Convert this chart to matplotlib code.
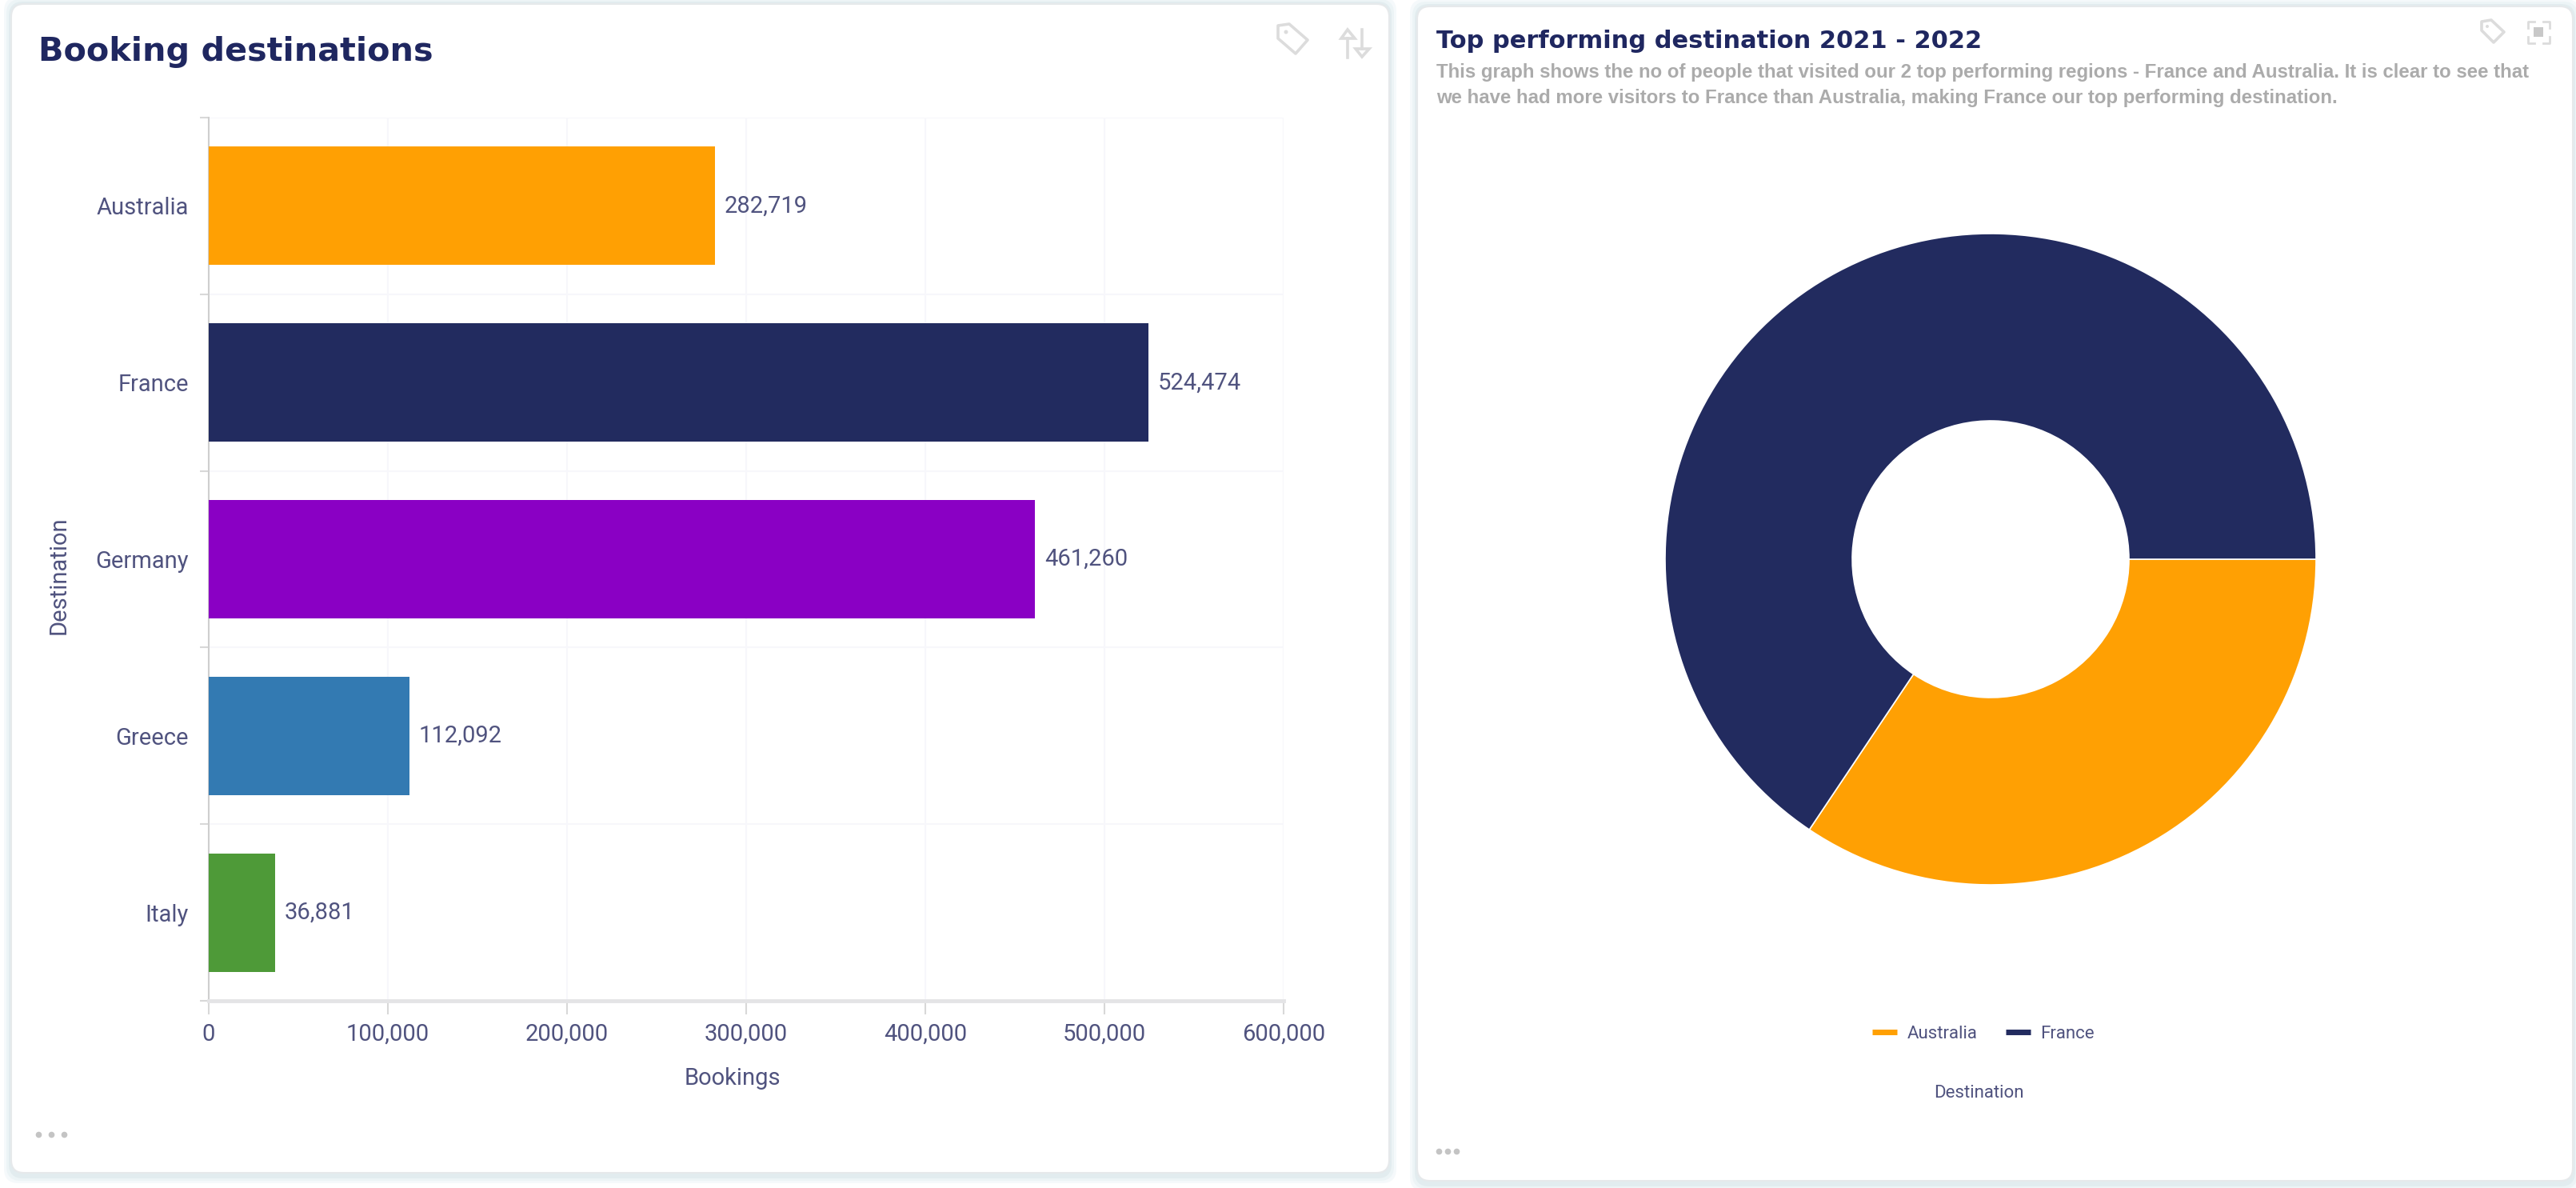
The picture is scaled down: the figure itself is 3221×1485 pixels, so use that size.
import matplotlib
matplotlib.use('Agg')
import matplotlib.pyplot as plt
from matplotlib.lines import Line2D
from matplotlib.patches import FancyBboxPatch, Polygon, Circle, Rectangle

W, H = 3221, 1485

# bar chart data
destinations = ['Australia', 'France', 'Germany', 'Greece', 'Italy']
bookings = [282719, 524474, 461260, 112092, 36881]
bar_colors = ['#FFA003', '#222B5F', '#8A00C4', '#337AB2', '#4E9A38']
x_ticks = [0, 100000, 200000, 300000, 400000, 500000, 600000]

# donut data, shares (no numbers shown on it)
donut_labels = ['Australia', 'France']
donut_values = [34.4, 65.6]
donut_colors = ['#FFA003', '#222B5F']

title_col = '#1F2760'
label_col = '#50537F'
icon_col = '#DCDCDC'
sub_col = '#ABABAB'

plt.rcParams['font.family'] = ['Roboto', 'DejaVu Sans']

fig = plt.figure(figsize=(W / 100, H / 100), dpi=100, facecolor='white')


def px_axes(x0, y0, x1, y1, **kw):
    # axes from pixel coordinates, y measured from the top
    return fig.add_axes([x0 / W, 1 - y1 / H, (x1 - x0) / W, (y1 - y0) / H], **kw)


# background layer in pixels, for cards, titles and icons
bg = px_axes(0, 0, W, H)
bg.set_xlim(0, W)
bg.set_ylim(H, 0)
bg.axis('off')


def card(x0, y0, x1, y1):
    for grow, col in [(9, '#F5F9FB'), (6, '#ECF4F6'), (3, '#E2ECEF')]:
        bg.add_patch(FancyBboxPatch((x0 - grow + 12, y0 - grow + 12), x1 - x0 + 2 * grow - 24, y1 - y0 + 2 * grow - 20,
                                    boxstyle='round,pad=12,rounding_size=18', fc=col, ec='none'))
    bg.add_patch(FancyBboxPatch((x0 + 12, y0 + 12), x1 - x0 - 24, y1 - y0 - 24,
                                boxstyle='round,pad=12,rounding_size=16', fc='white', ec='#E6E9EB', lw=1.5))


card(14, 5, 1737, 1466)
card(1772, 8, 3217, 1476)


def tag_icon(pts, hole, r):
    bg.add_patch(Polygon(pts, closed=True, fc='none', ec=icon_col, lw=2.6, joinstyle='round'))
    bg.add_patch(Circle(hole, r, fc=icon_col, ec='none'))


def dots(xs, y):
    bg.plot(xs, [y] * 3, ls='none', marker='o', ms=4.5, color='#C4C4C4')


tag_icon([(1598, 32), (1612, 30), (1635, 50), (1620, 67), (1598, 48)], (1608, 40), 2.5)
# sort arrows in the left card
bg.plot([1685, 1685], [48, 72], color=icon_col, lw=2.6)
bg.add_patch(Polygon([(1677, 48), (1685, 37), (1694, 48)], closed=True, fc='none', ec=icon_col, lw=2.6))
bg.plot([1703, 1703], [37, 61], color=icon_col, lw=2.6)
bg.add_patch(Polygon([(1695, 61), (1703, 71), (1712, 61)], closed=True, fc='none', ec=icon_col, lw=2.6))

tag_icon([(3103, 27), (3115, 25), (3131, 40), (3118, 53), (3103, 38)], (3110, 33), 2)
# focus icon in the right card
for sx, sy in [(-1, -1), (1, -1), (-1, 1), (1, 1)]:
    cx, cy = 3174 + sx * 13.5, 40 + sy * 13.5
    bg.plot([cx - sx * 8, cx, cx], [cy, cy, cy - sy * 8], color=icon_col, lw=2)
bg.add_patch(Rectangle((3168, 34), 12, 12, fc='#C8C8C8', ec='none'))

dots([48, 64, 80], 1418)
dots([1799, 1810, 1821], 1439)

bg.text(48, 65, 'Booking destinations', family='DejaVu Sans', weight='bold', fontsize=29.8,
        color=title_col, va='center', ha='left')
bg.text(1796, 51, 'Top performing destination 2021 - 2022', family='DejaVu Sans', weight='bold', fontsize=22,
        color=title_col, va='center', ha='left')
bg.text(1796, 90, 'This graph shows the no of people that visited our 2 top performing regions - France and Australia. It is clear to see that',
        family='Liberation Sans', weight='bold', fontsize=17.25, color=sub_col, va='center', ha='left')
bg.text(1796, 122, 'we have had more visitors to France than Australia, making France our top performing destination.',
        family='Liberation Sans', weight='bold', fontsize=17.25, color=sub_col, va='center', ha='left')

# bar chart
ax = px_axes(261, 147, 1605, 1251, facecolor='none')
positions = list(range(len(destinations)))
ax.barh(positions, bookings, height=0.67, color=bar_colors, zorder=3)
ax.set_ylim(len(destinations) - 0.5, -0.5)
ax.set_xlim(0, 600000)
ax.set_xticks(x_ticks)
ax.set_xticklabels([f'{v:,}' for v in x_ticks])
ax.set_yticks(positions)
ax.set_yticklabels(destinations)
ax.set_yticks([p - 0.5 for p in positions] + [len(destinations) - 0.5], minor=True)
ax.tick_params(axis='y', which='major', length=0, pad=18, labelsize=21, labelcolor=label_col)
ax.tick_params(axis='y', which='minor', length=8, width=1.5, color='#D8D8D8')
ax.tick_params(axis='x', length=12, width=1.5, color='#D8D8D8', pad=8, labelsize=21, labelcolor=label_col)
ax.grid(True, axis='x', color='#F7F7FB', lw=1.5, zorder=0)
ax.grid(True, axis='y', which='minor', color='#F7F7FB', lw=1.5, zorder=0)
for side in ['top', 'right']:
    ax.spines[side].set_visible(False)
ax.spines['left'].set_color('#CFCFCF')
ax.spines['left'].set_linewidth(1.5)
ax.spines['bottom'].set_color('#E4E4E6')
ax.spines['bottom'].set_linewidth(3.5)
for p, v in zip(positions, bookings):
    ax.annotate(f'{v:,}', (v, p), xytext=(8.5, 0), textcoords='offset points', va='center', ha='left',
                fontsize=21, color=label_col)
ax.set_xlabel('Bookings', fontsize=21, color=label_col, x=0.487, labelpad=19.5)
ax.set_ylabel('Destination', fontsize=21, color=label_col, y=0.482, labelpad=23)

# donut
cx, cy, r = 2489, 699, 407
dax = px_axes(cx - r, cy - r, cx + r, cy + r, facecolor='none')
dax.pie(donut_values, colors=donut_colors, startangle=0, counterclock=False, radius=1,
        wedgeprops={'width': 0.575, 'edgecolor': 'white', 'linewidth': 1.2})
dax.set_xlim(-1, 1)
dax.set_ylim(-1, 1)

handles = [Line2D([], [], color=c, lw=5, solid_capstyle='butt') for c in donut_colors]
bg.legend(handles, donut_labels, loc='center', bbox_to_anchor=(2480, 1292), bbox_transform=bg.transData, ncol=2,
          frameon=False, fontsize=16, labelcolor=label_col, handlelength=1.4, handletextpad=0.55, columnspacing=1.6)
bg.text(2474, 1366, 'Destination', fontsize=16, color=label_col, ha='center', va='center')

fig.savefig('out.png', dpi=100)
